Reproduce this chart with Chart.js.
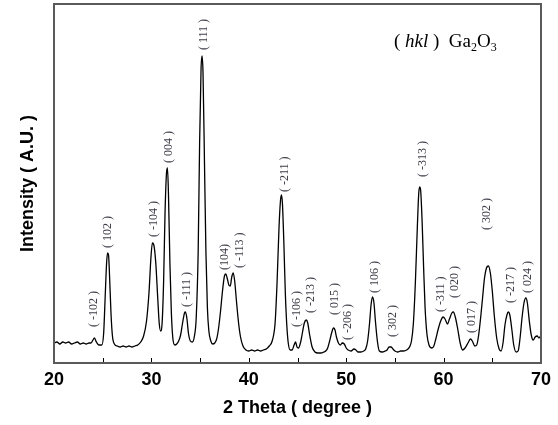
<!DOCTYPE html>
<html>
<head>
<meta charset="utf-8">
<script src="https://cdn.jsdelivr.net/npm/chart.js@4/dist/chart.umd.min.js"></script>
<style>
  html, body { margin: 0; padding: 0; background: #fff; }
  #wrap { width: 558px; height: 425px; }
</style>
</head>
<body>
<div id="wrap"><canvas id="xrd"></canvas></div>
<script>
// 2 theta (degree) and intensity (arbitrary units)
var twoTheta = [
  20.0, 20.3, 20.6, 20.9, 21.2, 21.5, 21.8, 22.1, 22.4, 22.7, 23.0, 23.3, 23.6, 23.8, 24.0, 24.15, 24.35, 24.6,
  24.9, 25.1, 25.25, 25.4, 25.5, 25.6, 25.7, 25.85, 26.0, 26.2, 26.5, 26.8, 27.1, 27.4, 27.7, 28.0, 28.3, 28.6, 28.9,
  29.2, 29.5, 29.75, 29.95, 30.1, 30.25, 30.45, 30.65, 30.8, 30.95, 31.1, 31.25, 31.4, 31.55, 31.65, 31.75, 31.9,
  32.05, 32.2, 32.4, 32.6, 32.8, 33.0, 33.2, 33.4, 33.5, 33.65, 33.8, 34.0, 34.2, 34.4, 34.6, 34.8, 34.95, 35.1,
  35.2, 35.3, 35.45, 35.6, 35.75, 35.9, 36.1, 36.3, 36.5, 36.7, 36.9, 37.1, 37.3, 37.5, 37.65, 37.8, 37.95, 38.1,
  38.25, 38.4, 38.55, 38.75, 38.95, 39.15, 39.4, 39.7, 40.0, 40.3, 40.6, 40.9, 41.2, 41.5, 41.8, 42.1, 42.4, 42.7,
  42.9, 43.1, 43.25, 43.35, 43.45, 43.6, 43.75, 43.9, 44.05, 44.25, 44.45, 44.65, 44.8, 44.95, 45.1, 45.3, 45.5,
  45.7, 45.9, 46.05, 46.25, 46.5, 46.8, 47.1, 47.4, 47.7, 47.9, 48.1, 48.3, 48.5, 48.7, 48.85, 49.0, 49.2, 49.4,
  49.6, 49.8, 50.0, 50.2, 50.5, 50.8, 51.0, 51.2, 51.5, 51.8, 52.0, 52.2, 52.4, 52.55, 52.7, 52.85, 53.0, 53.2,
  53.4, 53.7, 54.0, 54.2, 54.4, 54.6, 54.8, 55.0, 55.3, 55.6, 55.9, 56.2, 56.5, 56.7, 56.9, 57.1, 57.3, 57.45,
  57.55, 57.65, 57.8, 57.95, 58.1, 58.3, 58.5, 58.8, 59.0, 59.2, 59.45, 59.7, 59.95, 60.15, 60.4, 60.6, 60.85,
  61.0, 61.2, 61.45, 61.7, 61.95, 62.2, 62.5, 62.75, 62.95, 63.2, 63.4, 63.6, 63.8, 64.0, 64.2, 64.4, 64.6, 64.8,
  65.0, 65.2, 65.45, 65.7, 65.9, 66.1, 66.3, 66.5, 66.65, 66.8, 67.0, 67.2, 67.45, 67.65, 67.85, 68.05, 68.25,
  68.45, 68.6, 68.8, 69.0, 69.2, 69.4, 69.6, 69.8, 70.0
];
var intensity = [
  20, 21, 19, 21, 20, 21, 19, 20, 21, 19, 20, 19, 20, 20, 23, 25, 21, 18,
  18, 30, 65, 100, 110, 108, 88, 50, 27, 19, 17, 16, 17, 16, 17, 16, 17, 18, 21,
  27, 42, 70, 105, 120, 118, 100, 65, 40, 32, 40, 80, 150, 190, 195, 170, 100,
  50, 25, 18, 19, 22, 28, 40, 50, 51, 44, 30, 22, 21, 26, 45, 110, 220, 295,
  307, 290, 200, 110, 55, 32, 22, 19, 20, 24, 35, 52, 72, 87, 89, 84, 78, 77,
  86, 90, 82, 60, 40, 26, 17, 13, 12, 13, 12, 13, 12, 13, 14, 17, 22, 40,
  80, 135, 162, 168, 160, 120, 70, 38, 20, 13, 13, 18, 21, 16, 15, 20, 30,
  40, 43, 40, 28, 16, 11, 10, 10, 11, 12, 15, 22, 30, 35, 33, 26, 20, 18,
  20, 19, 15, 13, 12, 14, 13, 11, 11, 12, 14, 22, 40, 58, 66, 60, 42, 22,
  12, 11, 12, 13, 16, 16, 14, 12, 11, 12, 12, 13, 16, 22, 40, 80, 135, 170,
  176, 172, 140, 95, 55, 28, 18, 15, 17, 24, 34, 42, 46, 44, 39, 44, 50,
  51, 46, 34, 20, 13, 15, 20, 24, 22, 17, 18, 28, 45, 65, 85, 95, 97, 90,
  72, 48, 25, 14, 12, 20, 38, 48, 51, 48, 34, 18, 11, 12, 25, 45, 60,
  65, 60, 42, 28, 23, 26, 27, 25, 28
];

// reflection labels: text, 2 theta position, intensity where the label starts
var peakText = ['( -102 )', '( 102 )', '( -104 )', '( 004 )', '( -111 )', '( 111 )', '(104)', '( -113 )',
  '( -211 )', '( -106 )', '( -213 )', '( 015 )', '( -206 )', '( 106 )', '( 302 )', '( -313 )',
  '( -311 )', '( 020 )', '( 017 )', '( 302 )', '( -217 )', '( 024 )'];
var peakPos = [24.12, 25.56, 30.29, 31.83, 33.65, 35.43, 37.49, 39.03, 43.73, 44.9, 46.41, 48.81,
  50.14, 52.92, 54.74, 57.83, 59.68, 61.15, 62.9, 64.44, 66.88, 68.66];
var peakBase = [36, 115, 126, 200, 56, 313, 93, 95, 171, 36, 50, 48, 23, 70, 26, 186, 51, 65, 30, 133, 60, 70];

var points = twoTheta.map(function(t, i) { return { x: t, y: intensity[i] }; });

// frame, inward ticks, peak labels and the legend text
var decorations = {
  id: 'decorations',
  afterDatasetsDraw: function(chart) {
    var ctx = chart.ctx;
    var a = chart.chartArea;
    var xs = chart.scales.x;
    var ys = chart.scales.y;
    ctx.save();

    ctx.strokeStyle = '#000';
    ctx.lineWidth = 1;
    for (var t = 25; t < 70; t += 5) {
      var px = Math.round(xs.getPixelForValue(t)) + 0.5;
      ctx.beginPath();
      ctx.moveTo(px, a.bottom);
      ctx.lineTo(px, a.bottom - 5);
      ctx.stroke();
    }

    ctx.strokeStyle = '#5a5a5a';
    ctx.lineWidth = 2;
    ctx.strokeRect(a.left, a.top, a.right - a.left, a.bottom - a.top);

    ctx.fillStyle = '#3c3c48';
    ctx.font = '12px "Liberation Serif", serif';
    ctx.textAlign = 'left';
    ctx.textBaseline = 'middle';
    peakText.forEach(function(txt, i) {
      ctx.save();
      ctx.translate(xs.getPixelForValue(peakPos[i]), ys.getPixelForValue(peakBase[i]));
      ctx.rotate(-Math.PI / 2);
      ctx.fillText(txt, 0, 0);
      ctx.restore();
    });

    // ( hkl )  Ga2O3
    var x = a.left + 340;
    var y = a.top + 43;
    ctx.fillStyle = '#000';
    ctx.textBaseline = 'alphabetic';
    var parts = [
      ['( ', '19px "Liberation Serif", serif', 0],
      ['hkl', 'italic 19px "Liberation Serif", serif', 0],
      [' )  Ga', '19px "Liberation Serif", serif', 0],
      ['2', '12px "Liberation Serif", serif', 4],
      ['O', '19px "Liberation Serif", serif', 0],
      ['3', '12px "Liberation Serif", serif', 4]
    ];
    parts.forEach(function(p) {
      ctx.font = p[1];
      ctx.fillText(p[0], x, y + p[2]);
      x += ctx.measureText(p[0]).width;
    });
    ctx.restore();
  }
};

new Chart(document.getElementById('xrd'), {
  type: 'line',
  data: {
    datasets: [{
      data: points,
      borderColor: '#000',
      borderWidth: 1.3,
      pointRadius: 0,
      fill: false,
      cubicInterpolationMode: 'monotone'
    }]
  },
  options: {
    responsive: true,
    maintainAspectRatio: false,
    animation: false,
    layout: { padding: { top: 4, right: 17, left: 0, bottom: 0 } },
    plugins: {
      legend: { display: false },
      tooltip: { enabled: false }
    },
    scales: {
      x: {
        type: 'linear',
        min: 20,
        max: 70,
        grid: { display: false, drawTicks: false },
        border: { display: false },
        ticks: {
          stepSize: 10,
          padding: 6,
          color: '#000',
          font: { family: '"Liberation Sans", Arial, sans-serif', size: 18, weight: 'bold' }
        },
        title: {
          display: true,
          text: '2 Theta ( degree )',
          color: '#000',
          padding: { top: 0, bottom: 6 },
          font: { family: '"Liberation Sans", Arial, sans-serif', size: 18, weight: 'bold' }
        },
        afterFit: function(scale) { scale.height = 62; }
      },
      y: {
        min: 0,
        max: 359,
        grid: { display: false, drawTicks: false },
        border: { display: false },
        ticks: { display: false },
        title: {
          display: true,
          text: 'Intensity ( A.U. )',
          color: '#000',
          padding: { top: 17, bottom: 0 },
          font: { family: '"Liberation Sans", Arial, sans-serif', size: 18, weight: 'bold' }
        },
        afterFit: function(scale) { scale.width = 54; }
      }
    }
  },
  plugins: [decorations]
});
</script>
</body>
</html>
